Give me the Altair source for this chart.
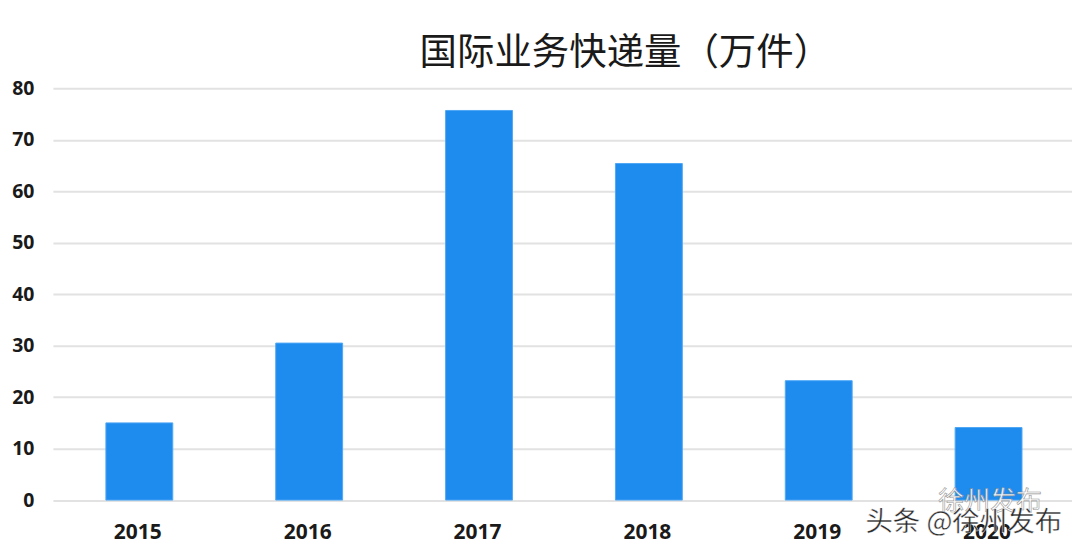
import altair as alt
import pandas as pd

years = ["2015", "2016", "2017", "2018", "2019", "2020"]
values = [15.0, 30.5, 75.7, 65.4, 23.2, 14.1]
title_text = "国际业务快递量（万件）"
wm_top = ["徐州发布"]
wm_bottom = ["头条 @徐州发布"]

df = pd.DataFrame({"year": years, "value": values})

bars = alt.Chart(df).mark_bar(color="#1E8BEF", stroke="#4FA8F5", strokeWidth=1, size=67, xOffset=1.5).encode(
    x=alt.X("year:N", title=None, sort=years,
            scale=alt.Scale(paddingInner=0.6, paddingOuter=0.3, round=False),
            axis=alt.Axis(labelAngle=0, labelFont="Noto Sans", labelFontWeight="bold",
                          labelFontSize=21, labelColor="#1a1a1a", labelPadding=21,
                          ticks=False, domain=False, grid=False)),
    y=alt.Y("value:Q", title=None, scale=alt.Scale(domain=[0, 80]),
            axis=alt.Axis(values=[0, 10, 20, 30, 40, 50, 60, 70, 80],
                          labelFont="Noto Sans", labelFontWeight="bold",
                          labelFontSize=19.5, labelColor="#1a1a1a", labelPadding=19,
                          ticks=False, domain=False, grid=True,
                          gridColor="#E2E2E2", gridWidth=2)),
)

ghost = alt.Chart(pd.DataFrame({"t": wm_top})).mark_text(
    font="Noto Sans CJK SC", fontSize=26, align="left", baseline="middle",
    fill="#FFFFFF", stroke="#8A8A8A", strokeWidth=0.6, opacity=0.9,
).encode(text="t:N", x=alt.value(887), y=alt.value(414))

stamp = alt.Chart(pd.DataFrame({"t": wm_bottom})).mark_text(
    font="Noto Sans CJK SC", fontSize=27.5, align="left", baseline="middle",
    fill="#2A2A2A", stroke="#FFFFFF", strokeWidth=0.4,
).encode(text="t:N", x=alt.value(814), y=alt.value(435))

chart = (
    alt.layer(bars, ghost, stamp)
    .properties(
        width=1021,
        height=412.5,
        padding={"left": 45, "top": 80, "right": 0, "bottom": 43},
        autosize=alt.AutoSizeParams(type="none"),
        title=alt.TitleParams(title_text, font="Noto Sans CJK SC", fontSize=37.5,
                              fontWeight="normal", color="#1a1a1a", anchor="middle",
                              dx=63, offset=6),
    )
    .configure_view(stroke=None)
)

chart.save("out.html", embed_options={"renderer": "svg", "actions": False})
